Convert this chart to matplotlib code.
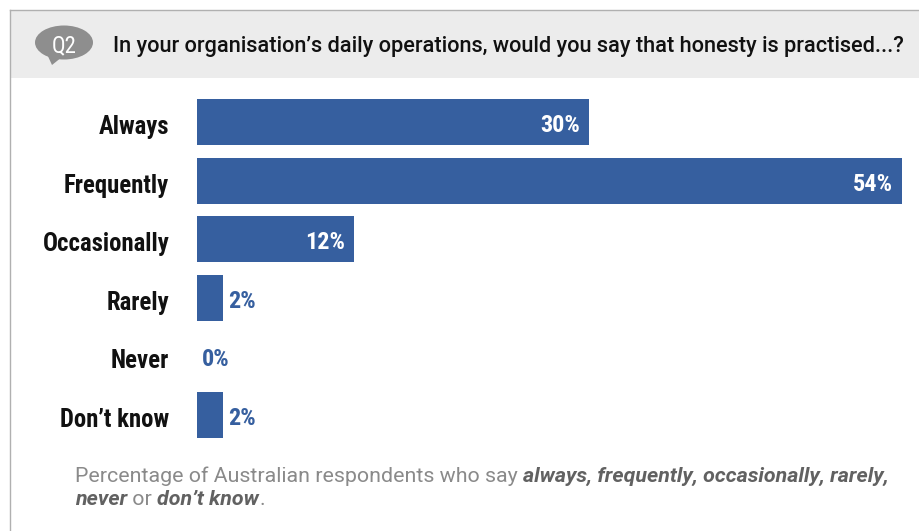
import matplotlib
matplotlib.use("Agg")
import matplotlib.pyplot as plt
from matplotlib.patches import Rectangle, Ellipse, Polygon

categories = ["Always", "Frequently", "Occasionally", "Rarely", "Never", "Don\u2019t know"]
values = [30, 54, 12, 2, 0, 2]
question = "In your organisation\u2019s daily operations, would you say that honesty is practised...?"
note_line1 = [("Percentage of Australian respondents who say ", False),
              ("always, frequently, occasionally, rarely,", True)]
note_line2 = [("never", True), (" or ", False), ("don\u2019t know", True), (".", False)]

BLUE = "#365f9f"
COND = "Roboto Condensed"

W, H = 919, 531
fig = plt.figure(figsize=(W / 100, H / 100), dpi=100)
fig.patch.set_facecolor("white")


def fx(px):
    return px / W


def fy(py):
    return 1 - py / H


# header band and frame lines
fig.add_artist(Rectangle((fx(10), fy(77.5)), 1, (77.5 - 10) / H, transform=fig.transFigure,
                         facecolor="#ececec", edgecolor="none"))
fig.add_artist(plt.Line2D([fx(9.5), 1], [fy(9.5), fy(9.5)], transform=fig.transFigure,
                          color="#b0b0b0", lw=1.0))
fig.add_artist(plt.Line2D([fx(9.5), fx(9.5)], [fy(9.5), 0], transform=fig.transFigure,
                          color="#b0b0b0", lw=1.0))

# Q2 speech bubble
BUB = "#8e8e8e"
fig.add_artist(Ellipse((fx(64), fy(42.5)), fx(58), 34 / H, transform=fig.transFigure,
                       facecolor=BUB, edgecolor="none"))
fig.add_artist(Polygon([(fx(46), fy(52)), (fx(62), fy(57)), (fx(52), fy(65))],
                       transform=fig.transFigure, facecolor=BUB, edgecolor="none"))
fig.text(fx(64), fy(52.5), "Q2", color="white", fontsize=16.5, ha="center", va="baseline",
         family=COND, fontweight="normal")
fig.text(fx(113), fy(52), question, fontsize=15.7, ha="left", va="baseline",
         color="#111111", family="Roboto", fontweight="medium")

# bars
ax = fig.add_axes([fx(197), fy(444.3), fx(902 - 197), (444.3 - 92.7) / H])
ypos = range(len(categories))
ax.barh(ypos, values, height=0.785, color=BLUE)
ax.set_xlim(0, 54)
ax.set_ylim(len(categories) - 0.5, -0.5)
ax.axis("off")

for y, (cat, v) in enumerate(zip(categories, values)):
    ax.annotate(cat, (0, y), xytext=(-20, -8.6), textcoords="offset points", ha="right",
                va="baseline", fontsize=17.8, fontweight="bold", family=COND, color="#111111")
    label = f"{v}%"
    if v >= 10:
        ax.annotate(label, (v, y), xytext=(-6.5, -7.2), textcoords="offset points", ha="right",
                    va="baseline", fontsize=17.5, fontweight="bold", family=COND, color="white")
    else:
        ax.annotate(label, (v, y), xytext=(3.5, -7.2), textcoords="offset points", ha="left",
                    va="baseline", fontsize=17.5, fontweight="bold", family=COND, color=BLUE)

# footnote: plain and bold-italic runs laid out one after another
renderer = fig.canvas.get_renderer()


def note(x_px, base_px, runs):
    x = fx(x_px)
    for s, emph in runs:
        kw = dict(fontsize=15.4, family="Roboto", va="baseline", ha="left")
        if emph:
            kw.update(fontweight="bold", style="italic", color="#616161")
        else:
            kw.update(fontweight="normal", color="#8a8a8a")
        t = fig.text(x, fy(base_px), s, **kw)
        bb = t.get_window_extent(renderer=renderer)
        x = bb.x1 / fig.bbox.width


note(75, 481.5, note_line1)
note(75, 505, note_line2)

fig.savefig("out.png", dpi=100)
